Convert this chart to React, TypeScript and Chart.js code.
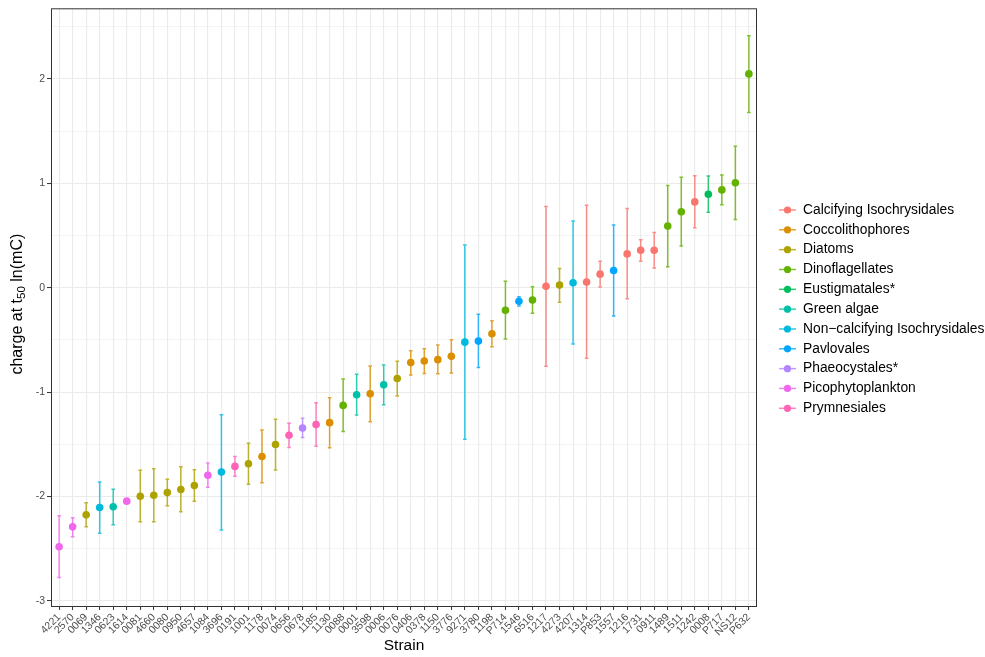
import React, { useEffect, useRef } from "react";
import { Chart, registerables } from "chart.js";

Chart.register(...registerables);

// Strains, ordered by estimated charge at t50
const strains = [
  "4221", "2570", "0069", "1346", "0623", "1614", "0081", "4660", "0080", "0950",
  "4657", "1084", "3696", "0191", "1001", "1178", "0074", "0656", "0678", "1185",
  "1130", "0088", "0001", "3598", "0006", "0076", "0406", "0378", "1150", "3776",
  "9271", "3780", "1198", "P714", "1546", "6516", "1217", "4273", "4207", "1314",
  "P853", "1557", "1216", "1731", "0911", "1489", "1511", "1242", "0008", "P717",
  "NS12", "P632",
];

// Taxonomic group of each strain
const strainGroups = [
  "Picophytoplankton", "Picophytoplankton", "Diatoms", "Non\u2212calcifying Isochrysidales", "Green algae",
  "Picophytoplankton", "Diatoms", "Diatoms", "Diatoms", "Diatoms",
  "Diatoms", "Picophytoplankton", "Non\u2212calcifying Isochrysidales", "Prymnesiales", "Diatoms",
  "Coccolithophores", "Diatoms", "Prymnesiales", "Phaeocystales*", "Prymnesiales",
  "Coccolithophores", "Dinoflagellates", "Green algae", "Coccolithophores", "Green algae",
  "Diatoms", "Coccolithophores", "Coccolithophores", "Coccolithophores", "Coccolithophores",
  "Non\u2212calcifying Isochrysidales", "Pavlovales", "Coccolithophores", "Dinoflagellates", "Pavlovales",
  "Dinoflagellates", "Calcifying Isochrysidales", "Diatoms", "Non\u2212calcifying Isochrysidales", "Calcifying Isochrysidales",
  "Calcifying Isochrysidales", "Pavlovales", "Calcifying Isochrysidales", "Calcifying Isochrysidales", "Calcifying Isochrysidales",
  "Dinoflagellates", "Dinoflagellates", "Calcifying Isochrysidales", "Eustigmatales*", "Dinoflagellates",
  "Dinoflagellates", "Dinoflagellates",
];

// Estimated charge at t50, ln(mC)
const chargeT50 = [
  -2.48, -2.29, -2.175, -2.105, -2.098, -2.044, -1.997, -1.987, -1.962, -1.933,
  -1.895, -1.797, -1.765, -1.711, -1.686, -1.616, -1.502, -1.413, -1.343, -1.311,
  -1.292, -1.127, -1.025, -1.016, -0.93, -0.87, -0.717, -0.702, -0.689, -0.657,
  -0.521, -0.511, -0.441, -0.216, -0.13, -0.117, 0.013, 0.025, 0.048, 0.054,
  0.13, 0.165, 0.324, 0.359, 0.359, 0.59, 0.727, 0.822, 0.895, 0.937,
  1.006, 2.048,
];

// Lower bound of the interval
const lowerCI = [
  -2.774, -2.384, -2.289, -2.352, -2.27, -2.054, -2.241, -2.241, -2.089, -2.146,
  -2.044, -1.911, -2.321, -1.806, -1.883, -1.867, -1.746, -1.53, -1.435, -1.517,
  -1.533, -1.378, -1.219, -1.283, -1.121, -1.038, -0.835, -0.822, -0.825, -0.816,
  -1.451, -0.765, -0.565, -0.492, -0.174, -0.244, -0.752, -0.14, -0.54, -0.676,
  0.007, -0.27, -0.105, 0.254, 0.19, 0.2, 0.4, 0.574, 0.724, 0.794,
  0.654, 1.679,
];

// Upper bound of the interval
const upperCI = [
  -2.184, -2.203, -2.06, -1.86, -1.93, -2.034, -1.749, -1.733, -1.835, -1.714,
  -1.743, -1.679, -1.216, -1.616, -1.489, -1.362, -1.26, -1.298, -1.251, -1.102,
  -1.054, -0.873, -0.829, -0.749, -0.74, -0.705, -0.603, -0.584, -0.549, -0.498,
  0.41, -0.254, -0.317, 0.063, -0.086, 0.01, 0.778, 0.184, 0.638, 0.79,
  0.254, 0.6, 0.759, 0.46, 0.53, 0.978, 1.057, 1.073, 1.07, 1.079,
  1.356, 2.412,
];

const groupNames = [
  "Calcifying Isochrysidales", "Coccolithophores", "Diatoms", "Dinoflagellates",
  "Eustigmatales*", "Green algae", "Non\u2212calcifying Isochrysidales", "Pavlovales",
  "Phaeocystales*", "Picophytoplankton", "Prymnesiales",
];

const groupColors = [
  "#F8766D", "#DB8E00", "#AEA200", "#64B200", "#00BD5C", "#00C1A7",
  "#00BADE", "#00A6FF", "#B385FF", "#EF67EB", "#FF63B6",
];

const yTickValues = [-3, -2.5, -2, -1.5, -1, -0.5, 0, 0.5, 1, 1.5, 2, 2.5];

const FONT = "'Liberation Sans', Arial, sans-serif";

function withAlpha(hex: string, a: number) {
  const n = parseInt(hex.slice(1), 16);
  return `rgba(${(n >> 16) & 255},${(n >> 8) & 255},${n & 255},${a})`;
}

const decorPlugin = {
  id: "decor",
  beforeDatasetsDraw(chart: any) {
    const { ctx } = chart;
    const xs = chart.scales.x;
    const ys = chart.scales.y;
    ctx.save();
    ctx.lineWidth = 1.5;
    strains.forEach((_, i) => {
      const color = groupColors[groupNames.indexOf(strainGroups[i])];
      const x = xs.getPixelForValue(i);
      const y0 = ys.getPixelForValue(lowerCI[i]);
      const y1 = ys.getPixelForValue(upperCI[i]);
      ctx.strokeStyle = withAlpha(color, 0.8);
      ctx.beginPath();
      ctx.moveTo(x, y0);
      ctx.lineTo(x, y1);
      ctx.moveTo(x - 1.8, y0);
      ctx.lineTo(x + 1.8, y0);
      ctx.moveTo(x - 1.8, y1);
      ctx.lineTo(x + 1.8, y1);
      ctx.stroke();
    });
    ctx.restore();
  },
  afterDraw(chart: any) {
    const { ctx, chartArea } = chart;
    ctx.save();
    // panel border
    ctx.strokeStyle = "#333333";
    ctx.lineWidth = 1;
    ctx.strokeRect(chartArea.left + 0.5, chartArea.top + 0.5,
      chartArea.right - chartArea.left - 1, chartArea.bottom - chartArea.top);

    // x axis title
    ctx.fillStyle = "#000000";
    ctx.font = `15.5px ${FONT}`;
    ctx.textAlign = "center";
    ctx.textBaseline = "middle";
    ctx.fillText("Strain", (chartArea.left + chartArea.right) / 2, 646);

    // y axis title with subscript
    ctx.translate(18, (chartArea.top + chartArea.bottom) / 2 - 3);
    ctx.rotate(-Math.PI / 2);
    ctx.textAlign = "left";
    const main = `16px ${FONT}`;
    const sub = `11.5px ${FONT}`;
    const parts: [string, string, number][] = [
      ["charge at t", main, 0],
      ["50", sub, 4],
      [" ln(mC)", main, 0],
    ];
    let total = 0;
    parts.forEach(([t, f]) => { ctx.font = f; total += ctx.measureText(t).width; });
    let cx = -total / 2;
    parts.forEach(([t, f, dy]) => {
      ctx.font = f;
      ctx.fillText(t, cx, dy);
      cx += ctx.measureText(t).width;
    });
    ctx.restore();

    // legend
    ctx.save();
    ctx.font = `13.8px ${FONT}`;
    ctx.textBaseline = "middle";
    ctx.textAlign = "left";
    groupNames.forEach((name, i) => {
      const y = 210 + i * 19.83;
      const c = groupColors[i];
      ctx.strokeStyle = withAlpha(c, 0.8);
      ctx.lineWidth = 1.5;
      ctx.beginPath();
      ctx.moveTo(779, y);
      ctx.lineTo(796, y);
      ctx.stroke();
      ctx.fillStyle = c;
      ctx.beginPath();
      ctx.arc(787.5, y, 3.6, 0, Math.PI * 2);
      ctx.fill();
      ctx.fillStyle = "#000000";
      ctx.fillText(name, 803, y);
    });
    ctx.restore();
  },
};

export default function App() {
  const ref = useRef<HTMLCanvasElement | null>(null);

  useEffect(() => {
    if (!ref.current) return;
    const datasets = groupNames.map((name, gi) => ({
      label: name,
      data: strains
        .map((_, i) => ({ x: i, y: chargeT50[i], g: strainGroups[i] }))
        .filter((d) => d.g === name)
        .map((d) => ({ x: d.x, y: d.y })),
      backgroundColor: groupColors[gi],
      borderColor: groupColors[gi],
      borderWidth: 0,
      pointRadius: 3.8,
      pointHoverRadius: 3.8,
    }));

    const chart = new Chart(ref.current, {
      type: "scatter",
      data: { datasets },
      options: {
        animation: false,
        responsive: false,
        devicePixelRatio: 1,
        layout: { padding: { left: 0, right: 228, top: 6, bottom: 0 } },
        plugins: { legend: { display: false }, tooltip: { enabled: false } },
        scales: {
          x: {
            type: "linear",
            min: -0.6,
            max: strains.length - 1 + 0.6,
            afterBuildTicks: (s: any) => {
              s.ticks = strains.map((_, i) => ({ value: i }));
            },
            afterFit: (s: any) => { s.height = 51; },
            border: { display: false },
            grid: {
              color: "#EBEBEB",
              lineWidth: 1.1,
              tickColor: "#333333",
              tickLength: 4,
              tickWidth: 1,
            },
            ticks: {
              autoSkip: false,
              minRotation: 45,
              maxRotation: 45,
              padding: 1,
              color: "#4D4D4D",
              font: { family: FONT, size: 10.5 },
              callback: (v: any) => strains[Math.round(v)] ?? "",
            },
          },
          y: {
            type: "linear",
            min: -3.048,
            max: 2.676,
            afterBuildTicks: (s: any) => {
              s.ticks = yTickValues.map((v) => ({ value: v }));
            },
            afterFit: (s: any) => { s.width = 51; },
            border: { display: false },
            grid: {
              color: "#EBEBEB",
              lineWidth: (c: any) => (Number.isInteger(c.tick?.value) ? 1.1 : 0.55),
              tickColor: (c: any) => (Number.isInteger(c.tick?.value) ? "#333333" : "rgba(0,0,0,0)"),
              tickLength: 4,
              tickWidth: 1,
            },
            ticks: {
              padding: 2,
              color: "#4D4D4D",
              font: { family: FONT, size: 10.5 },
              callback: (v: any) => (Number.isInteger(v) ? String(v) : ""),
            },
          },
        },
      },
      plugins: [decorPlugin],
    });
    return () => chart.destroy();
  }, []);

  return (
    <div style={{ position: "absolute", left: 0, top: 0, width: 985, height: 657, background: "#fff" }}>
      <canvas ref={ref} width={985} height={657} />
    </div>
  );
}
